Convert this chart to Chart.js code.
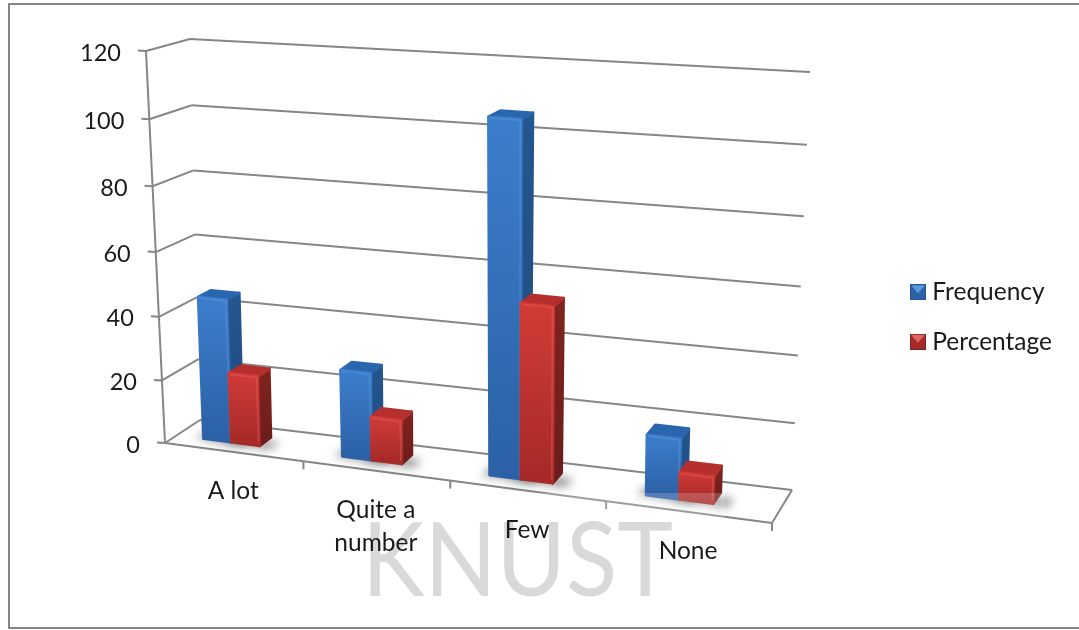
<!DOCTYPE html>
<html>
<head>
<meta charset="utf-8">
<title>Frequency and percentage</title>
<style>
html, body { margin: 0; background: #fff; }
canvas { display: block; }
</style>
<script src="https://cdn.jsdelivr.net/npm/chart.js@4/dist/chart.umd.min.js"></script>
</head>
<body>
<canvas id="myChart" width="1079" height="630"></canvas>
<script>
const categories = ["A lot", ["Quite a", "number"], "Few", "None"];
const frequency = [45, 27, 106, 18];
const percentage = [22, 13.5, 53, 8];
const tickStep = 20;
const tickMax = 120;

const seriesStyles = {
	Frequency: { front: ["#3c7ecc", "#2c61a6"], side: ["#25568f", "#1f4a80"], top: "#2a66ad", edge: "#5f9ade" },
	Percentage: { front: ["#d13b37", "#a62a28"], side: ["#80241f", "#6b1c1b"], top: "#b5302c", edge: "#e2635f" }
};
const tickFont = '23.5px Lato';
const categoryFont = '24.5px Lato';
const labelColor = '#1a1a1a';
const lineColor = '#868686';

// corners of the 3D box on the canvas: floor and top of the plot
const box = {
	floor: { fl: [165, 443], fr: [772, 523], bl: [200, 420], br: [792, 490] },
	roof: { fl: [146, 51], fr: [781, 93], bl: [190, 39], br: [810, 72] }
};
const perspectiveX = 0.128;
const perspectiveY = 0.053;
const barFront = 0.34;
const barBack = 0.68;
const barShift = -0.024;

function lerp(a, b, t) {
	return [a[0] + (b[0] - a[0]) * t, a[1] + (b[1] - a[1]) * t];
}

// x and y are 0..1 along the axes, z is 0 at the front and 1 at the back wall
function project(x, y, z) {
	var px = x / (1 + perspectiveX * (1 - x));
	var py = y / (1 + perspectiveY * (1 - y));
	var low = lerp(lerp(box.floor.fl, box.floor.fr, px), lerp(box.floor.bl, box.floor.br, px), z);
	var high = lerp(lerp(box.roof.fl, box.roof.fr, px), lerp(box.roof.bl, box.roof.br, px), z);
	return lerp(low, high, py);
}

function line(ctx, a, b) {
	ctx.beginPath();
	ctx.moveTo(a[0], a[1]);
	ctx.lineTo(b[0], b[1]);
	ctx.stroke();
}

function polygon(ctx, points) {
	ctx.beginPath();
	points.forEach(function(p, i) {
		if (i === 0) ctx.moveTo(p[0], p[1]);
		else ctx.lineTo(p[0], p[1]);
	});
	ctx.closePath();
}

function face(ctx, points, fill) {
	polygon(ctx, points);
	ctx.fillStyle = fill;
	ctx.strokeStyle = fill;
	ctx.lineWidth = 3;
	ctx.lineJoin = 'round';
	ctx.fill();
	ctx.stroke();
}

function verticalGradient(ctx, y0, y1, colors) {
	var g = ctx.createLinearGradient(0, y0, 0, y1);
	g.addColorStop(0, colors[0]);
	g.addColorStop(1, colors[1]);
	return g;
}

function drawWalls(chart) {
	var ctx = chart.ctx;
	var yScale = chart.scales.y;
	var area = chart.chartArea;
	var count = categories.length;

	ctx.save();
	ctx.strokeStyle = lineColor;
	ctx.lineWidth = 2;
	yScale.ticks.forEach(function(tick) {
		var yf = (area.bottom - yScale.getPixelForValue(tick.value)) / area.height;
		var front = project(0, yf, 0);
		var corner = project(0, yf, 1);
		line(ctx, project(1, yf, 1), corner);
		line(ctx, corner, front);
		line(ctx, front, [front[0] - 8, front[1] - 0.5]);

		ctx.fillStyle = labelColor;
		ctx.font = tickFont;
		ctx.textAlign = 'right';
		ctx.textBaseline = 'middle';
		ctx.fillText(String(tick.value), front[0] - 25, front[1] + 2);
	});
	line(ctx, project(0, 0, 0), project(0, 1, 0));
	line(ctx, project(0, 0, 0), project(1, 0, 0));
	line(ctx, project(1, 0, 0), project(1, 0, 1));
	for (var i = 1; i <= count; i++) {
		var foot = project(i / count, 0, 0);
		line(ctx, foot, [foot[0], foot[1] + 8]);
	}
	ctx.restore();
}

function barCorners(chart, el) {
	var area = chart.chartArea;
	var left = (el.x - el.width / 2 - area.left) / area.width + barShift;
	var right = (el.x + el.width / 2 - area.left) / area.width + barShift;
	var top = (area.bottom - el.y) / area.height;
	var base = (area.bottom - el.base) / area.height;
	return { left: left, right: right, top: top, base: base };
}

function drawShadow(chart, el) {
	var ctx = chart.ctx;
	var b = barCorners(chart, el);
	ctx.save();
	ctx.filter = 'blur(5px)';
	ctx.fillStyle = 'rgba(60,60,60,0.6)';
	polygon(ctx, [
		project(b.left - 0.014, 0, barFront - 0.02),
		project(b.right + 0.022, 0, barFront - 0.08),
		project(b.right + 0.026, 0, barBack - 0.15),
		project(b.left - 0.008, 0, barBack - 0.11)
	]);
	ctx.fill();
	ctx.restore();
}

function drawBar(chart, el, style) {
	var ctx = chart.ctx;
	var b = barCorners(chart, el);
	var fbl = project(b.left, b.base, barFront);
	var fbr = project(b.right, b.base, barFront);
	var ftl = project(b.left, b.top, barFront);
	var ftr = project(b.right, b.top, barFront);
	var bbr = project(b.right, b.base, barBack);
	var btr = project(b.right, b.top, barBack);
	var btl = project(b.left, b.top, barBack);

	ctx.save();
	face(ctx, [ftr, btr, bbr, fbr], verticalGradient(ctx, btr[1], fbr[1], style.side));
	face(ctx, [ftl, btl, btr, ftr], style.top);
	face(ctx, [ftl, ftr, fbr, fbl], verticalGradient(ctx, ftl[1], fbl[1], style.front));

	// soft bevel along the top and right of the front face
	ctx.strokeStyle = style.edge;
	ctx.globalAlpha = 0.45;
	ctx.lineWidth = 1.5;
	ctx.lineJoin = 'round';
	ctx.beginPath();
	ctx.moveTo(ftl[0] + 1, ftl[1] + 1);
	ctx.lineTo(ftr[0] - 1, ftr[1] + 1);
	ctx.lineTo(fbr[0] - 1, fbr[1] - 3);
	ctx.stroke();
	ctx.restore();
}

function drawCategoryLabels(chart) {
	var ctx = chart.ctx;
	var count = categories.length;
	ctx.save();
	ctx.fillStyle = labelColor;
	ctx.font = categoryFont;
	ctx.textAlign = 'center';
	ctx.textBaseline = 'middle';
	chart.scales.x.getLabels().forEach(function(label, i) {
		var a = project(i / count, 0, 0);
		var b = project((i + 1) / count, 0, 0);
		var cx = (a[0] + b[0]) / 2 - 1;
		var cy = (a[1] + b[1]) / 2 + 39;
		[].concat(label).forEach(function(text, row) {
			ctx.fillText(text, cx, cy + row * 33);
		});
	});
	ctx.restore();
}

function drawStamp(chart) {
	var ctx = chart.ctx;
	ctx.save();
	ctx.fillStyle = 'rgba(255,255,255,0.2)';
	ctx.fillRect(360, 493, 365, 120);
	ctx.fillStyle = '#d9d9d9';
	ctx.font = '103px Lato';
	ctx.textAlign = 'left';
	ctx.textBaseline = 'alphabetic';
	ctx.fillText('KNUST', 362, 596, 311);
	ctx.restore();
}

const box3d = {
	id: 'box3d',
	beforeDraw: function(chart) {
		var ctx = chart.ctx;
		ctx.save();
		ctx.fillStyle = '#fff';
		ctx.fillRect(0, 0, chart.width, chart.height);
		ctx.strokeStyle = lineColor;
		ctx.lineWidth = 2;
		ctx.beginPath();
		ctx.moveTo(chart.width, 4);
		ctx.lineTo(9, 4);
		ctx.lineTo(9, 628);
		ctx.lineTo(chart.width, 628);
		ctx.stroke();
		ctx.restore();
	},
	afterDatasetsDraw: function(chart) {
		drawWalls(chart);
		var metas = chart.getSortedVisibleDatasetMetas();
		categories.forEach(function(c, i) {
			metas.forEach(function(meta) { drawShadow(chart, meta.data[i]); });
		});
		categories.forEach(function(c, i) {
			metas.forEach(function(meta) {
				drawBar(chart, meta.data[i], seriesStyles[chart.data.datasets[meta.index].label]);
			});
		});
		drawStamp(chart);
		drawCategoryLabels(chart);
	}
};

// small pyramid-shaded key for the legend
function legendSwatch(style) {
	var c = document.createElement('canvas');
	c.width = 16;
	c.height = 16;
	var g = c.getContext('2d');
	g.fillStyle = style.side[0];
	g.fillRect(0, 0, 16, 16);
	g.fillStyle = style.front[1];
	g.fillRect(1, 1, 14, 14);
	g.fillStyle = style.edge;
	g.beginPath();
	g.moveTo(1, 1);
	g.lineTo(15, 1);
	g.lineTo(8, 9);
	g.closePath();
	g.fill();
	return c;
}

new Chart("myChart", {
	type: "bar",
	data: {
		labels: categories,
		datasets: [{
			label: 'Frequency',
			data: frequency,
			backgroundColor: 'transparent',
			categoryPercentage: 0.41,
			barPercentage: 1
		},
		{
			label: 'Percentage',
			data: percentage,
			backgroundColor: 'transparent',
			categoryPercentage: 0.41,
			barPercentage: 1
		}]
	},
	options: {
		responsive: false,
		animation: false,
		layout: { padding: { right: 17, top: 4 } },
		scales: {
			x: { display: false },
			y: { display: false, min: 0, max: tickMax, ticks: { stepSize: tickStep } }
		},
		plugins: {
			tooltip: { enabled: false },
			legend: {
				position: 'right',
				labels: {
					usePointStyle: true,
					boxWidth: 4,
					boxHeight: 16,
					padding: 25,
					color: labelColor,
					font: { family: 'Lato', size: 24.5 },
					generateLabels: function(chart) {
						return chart.data.datasets.map(function(ds, i) {
							return {
								text: ds.label,
								fontColor: labelColor,
								pointStyle: legendSwatch(seriesStyles[ds.label]),
								strokeStyle: 'transparent',
								fillStyle: 'transparent',
								lineWidth: 0,
								datasetIndex: i
							};
						});
					}
				}
			}
		}
	},
	plugins: [box3d]
});
</script>
</body>
</html>
